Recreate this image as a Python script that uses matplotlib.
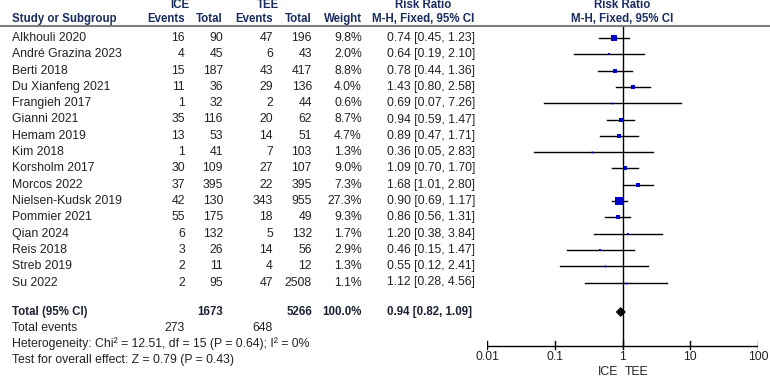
import matplotlib.pyplot as plt
import matplotlib as mpl

mpl.rcParams['font.family'] = ['Liberation Sans', 'DejaVu Sans']

# study data
STUDIES = ['Alkhouli 2020', 'André Grazina 2023', 'Berti 2018', 'Du Xianfeng 2021',
           'Frangieh 2017', 'Gianni 2021', 'Hemam 2019', 'Kim 2018', 'Korsholm 2017',
           'Morcos 2022', 'Nielsen-Kudsk 2019', 'Pommier 2021', 'Qian 2024',
           'Reis 2018', 'Streb 2019', 'Su 2022']
ICE_EVENTS = [16, 4, 15, 11, 1, 35, 13, 1, 30, 37, 42, 55, 6, 3, 2, 2]
ICE_TOTAL = [90, 45, 187, 36, 32, 116, 53, 41, 109, 395, 130, 175, 132, 26, 11, 95]
TEE_EVENTS = [47, 6, 43, 29, 2, 20, 14, 7, 27, 22, 343, 18, 5, 14, 4, 47]
TEE_TOTAL = [196, 43, 417, 136, 44, 62, 51, 103, 107, 395, 955, 49, 132, 56, 12, 2508]
WEIGHT = [9.8, 2.0, 8.8, 4.0, 0.6, 8.7, 4.7, 1.3, 9.0, 7.3, 27.3, 9.3, 1.7, 2.9, 1.3, 1.1]
RR = [0.74, 0.64, 0.78, 1.43, 0.69, 0.94, 0.89, 0.36, 1.09, 1.68, 0.90, 0.86, 1.20, 0.46, 0.55, 1.12]
LOWER = [0.45, 0.19, 0.44, 0.80, 0.07, 0.59, 0.47, 0.05, 0.70, 1.01, 0.69, 0.56, 0.38, 0.15, 0.12, 0.28]
UPPER = [1.23, 2.10, 1.36, 2.58, 7.26, 1.47, 1.71, 2.83, 1.70, 2.80, 1.17, 1.31, 3.84, 1.47, 2.41, 4.56]

# pooled result
TOTAL_ICE, TOTAL_TEE = 1673, 5266
EVENTS_ICE, EVENTS_TEE = 273, 648
POOLED_RR, POOLED_LO, POOLED_HI = 0.94, 0.82, 1.09
HETEROGENEITY = 'Heterogeneity: Chi² = 12.51, df = 15 (P = 0.64); I² = 0%'
OVERALL = 'Test for overall effect: Z = 0.79 (P = 0.43)'

AXIS_TICKS = [0.01, 0.1, 1, 10, 100]
AXIS_LABELS = ['0.01', '0.1', '1', '10', '100']

HEAD_COLOR = '#1b2d5e'
FS = 8.8
FS_B = 8.3

W, H = 770, 378
fig = plt.figure(figsize=(W / 100, H / 100), dpi=100)

# text axes in pixel units
ax = fig.add_axes([0, 0, 1, 1])
ax.set_xlim(0, W)
ax.set_ylim(H, 0)
ax.axis('off')

# forest axes: log scale, 0.01 -> x=487 px, 100 -> x=758 px
fx0, fx1 = 487, 758
fa = fig.add_axes([fx0 / W, 0, (fx1 - fx0) / W, 1])
fa.set_xscale('log')
fa.set_xlim(0.01, 100)
fa.set_ylim(H, 0)
fa.axis('off')

row0, step = 38, 16.3
row_y = [row0 + i * step for i in range(len(STUDIES))]
total_y = 312
left = 12

# headers
hk = dict(fontsize=FS_B, fontweight='bold', color=HEAD_COLOR, va='center')
ax.text(180, 5, 'ICE', ha='center', **hk)
ax.text(268, 5, 'TEE', ha='center', **hk)
ax.text(423, 5, 'Risk Ratio', ha='center', **hk)
ax.text(622, 5, 'Risk Ratio', ha='center', **hk)
ax.text(left, 19, 'Study or Subgroup', ha='left', **hk)
ax.text(185, 19, 'Events', ha='right', **hk)
ax.text(223, 19, 'Total', ha='right', **hk)
ax.text(273, 19, 'Events', ha='right', **hk)
ax.text(312, 19, 'Total', ha='right', **hk)
ax.text(362, 19, 'Weight', ha='right', **hk)
ax.text(423, 19, 'M-H, Fixed, 95% CI', ha='center', **hk)
ax.text(622, 19, 'M-H, Fixed, 95% CI', ha='center', **hk)
ax.plot([0, W], [26, 26], color='#808080', lw=1.5)

# study rows
tk = dict(fontsize=FS, color='#222222', va='center')
for i, y in enumerate(row_y):
    ax.text(left, y, STUDIES[i], ha='left', **tk)
    ax.text(185, y, str(ICE_EVENTS[i]), ha='right', **tk)
    ax.text(223, y, str(ICE_TOTAL[i]), ha='right', **tk)
    ax.text(273, y, str(TEE_EVENTS[i]), ha='right', **tk)
    ax.text(312, y, str(TEE_TOTAL[i]), ha='right', **tk)
    ax.text(362, y, f'{WEIGHT[i]:.1f}%', ha='right', **tk)
    ax.text(387, y, f'{RR[i]:.2f} [{LOWER[i]:.2f}, {UPPER[i]:.2f}]', ha='left', **tk)

    fa.plot([LOWER[i], UPPER[i]], [y, y], color='black', lw=1)
    side = max(1.8, 1.6 * WEIGHT[i] ** 0.5)
    fa.plot(RR[i], y, marker='s', color='#0000cc', markersize=side * 0.72,
            markeredgewidth=0, zorder=3)

# total row
bk = dict(fontsize=FS_B, fontweight='bold', color='#1c2233', va='center')
ax.text(left, total_y, 'Total (95% CI)', ha='left', **bk)
ax.text(223, total_y, str(TOTAL_ICE), ha='right', **bk)
ax.text(312, total_y, str(TOTAL_TEE), ha='right', **bk)
ax.text(362, total_y, '100.0%', ha='right', **bk)
ax.text(387, total_y, f'{POOLED_RR:.2f} [{POOLED_LO:.2f}, {POOLED_HI:.2f}]', ha='left', **bk)
fa.fill([POOLED_LO, POOLED_RR, POOLED_HI, POOLED_RR],
        [total_y, total_y - 4, total_y, total_y + 4], color='black', zorder=3)

ax.text(left, 328, 'Total events', ha='left', **tk)
ax.text(185, 328, str(EVENTS_ICE), ha='right', **tk)
ax.text(273, 328, str(EVENTS_TEE), ha='right', **tk)
ax.text(left, 344, HETEROGENEITY, ha='left', **tk)
ax.text(left, 360, OVERALL, ha='left', **tk)

# null line and axis
axis_y = 346
fa.plot([1, 1], [27, axis_y], color='black', lw=1)
fa.plot([AXIS_TICKS[0], AXIS_TICKS[-1]], [axis_y, axis_y], color='black', lw=1)
for t, lab in zip(AXIS_TICKS, AXIS_LABELS):
    fa.plot([t, t], [axis_y - 5, axis_y + 3], color='black', lw=1)
    fa.text(t, 357, lab, ha='center', va='center', fontsize=FS, color='#222222')
fa.text(0.62, 372, 'ICE', ha='center', va='center', fontsize=FS, color='#222222')
fa.text(1.6, 372, 'TEE', ha='center', va='center', fontsize=FS, color='#222222')

fig.savefig('out.png', dpi=100)
